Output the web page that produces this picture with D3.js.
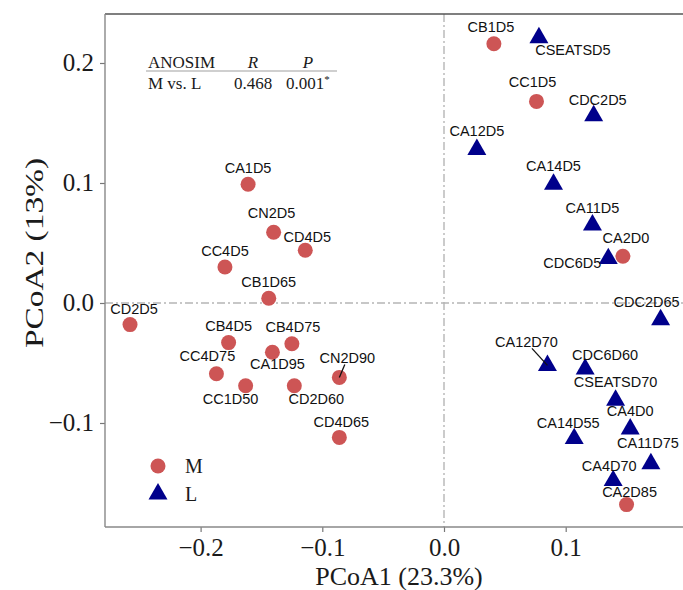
<!DOCTYPE html>
<html>
<head>
<meta charset="utf-8">
<script src="https://cdn.jsdelivr.net/npm/d3@7"></script>
<style>
  body { margin: 0; background: #fff; }
  svg { display: block; }
</style>
</head>
<body>
<div id="chart"></div>
<script>
// PCoA scores
const sampleNames = ["CA1D5","CN2D5","CD4D5","CC4D5","CB1D65","CD2D5","CB4D5","CB4D75","CA1D95",
  "CC4D75","CC1D50","CD2D60","CN2D90","CD4D65","CB1D5","CC1D5","CA2D0","CA2D85",
  "CSEATSD5","CDC2D5","CA12D5","CA14D5","CA11D5","CDC6D5","CDC2D65","CA12D70","CDC6D60",
  "CSEATSD70","CA4D0","CA14D55","CA11D75","CA4D70"];
const pcoa1 = [-0.161,-0.140,-0.114,-0.180,-0.144,-0.258,-0.177,-0.125,-0.141,
  -0.187,-0.163,-0.123,-0.086,-0.086,0.041,0.076,0.147,0.150,
  0.078,0.123,0.027,0.090,0.122,0.135,0.178,0.085,0.116,
  0.141,0.153,0.107,0.170,0.139];
const pcoa2 = [0.099,0.059,0.044,0.030,0.004,-0.018,-0.033,-0.034,-0.041,
  -0.059,-0.069,-0.069,-0.062,-0.112,0.216,0.168,0.039,-0.168,
  0.221,0.156,0.128,0.099,0.065,0.037,-0.014,-0.052,-0.055,
  -0.081,-0.105,-0.113,-0.134,-0.148];
const groups = ["M","M","M","M","M","M","M","M","M",
  "M","M","M","M","M","M","M","M","M",
  "L","L","L","L","L","L","L","L","L",
  "L","L","L","L","L"];

const groupNames = ["M", "L"];
const xTicks = [-0.2, -0.1, 0.0, 0.1];
const yTicks = [-0.1, 0.0, 0.1, 0.2];
const anosimHeader = ["ANOSIM", "R", "P"];
const anosimRow = ["M vs. L", "0.468", "0.001"];

// where each repelled label sits relative to its point (px)
const labelDx = [0,-2,2,0,0,4,0,1,5, -9,-15,22,8,2,-3,-4,3,3, 34,4,0,0,0,-36,-14,-21,20, 0,0,-6,-3,-4];
const labelDy = [-16,-19,-13,-16,-16,-16,-17,-17,12, -18,13,13,-19,-15,-17,-19,-18,-13,
  12,-16,-18,-18,-17,4,-18,-23,-14, -18,-18,-16,-21,-15];
const withSegment = ["CN2D90", "CA12D70"];

const width = 683, height = 590;
const pLeft = 105, pRight = 685, pTop = 14, pBottom = 527;

const colM = "#CD5555", colL = "#00008B";
const serif = "'Liberation Serif','Times New Roman',serif";
const sans = "'Liberation Sans',Arial,sans-serif";

const svg = d3.select("#chart").append("svg")
  .attr("width", width).attr("height", height);

const x = d3.scaleLinear().domain([-0.27856, 0.19803]).range([pLeft, pRight]);
const y = d3.scaleLinear().domain([-0.18667, 0.24083]).range([pBottom, pTop]);

// zero lines
svg.append("line")
  .attr("x1", pLeft).attr("x2", pRight).attr("y1", y(0)).attr("y2", y(0))
  .attr("stroke", "#b5b5b5").attr("stroke-width", 1.4)
  .attr("stroke-dasharray", "8,3,2,3");
svg.append("line")
  .attr("x1", x(0)).attr("x2", x(0)).attr("y1", pTop).attr("y2", pBottom)
  .attr("stroke", "#b5b5b5").attr("stroke-width", 1.4)
  .attr("stroke-dasharray", "8,3,2,3");

// axes
const xAxis = svg.append("g")
  .attr("transform", "translate(0," + pBottom + ")")
  .call(d3.axisBottom(x).tickValues(xTicks).tickFormat(d3.format(".1f")).tickSize(5).tickPadding(6));
const yAxis = svg.append("g")
  .attr("transform", "translate(" + pLeft + ",0)")
  .call(d3.axisLeft(y).tickValues(yTicks).tickFormat(d3.format(".1f")).tickSize(5).tickPadding(6));

[xAxis, yAxis].forEach(a => {
  a.select(".domain").remove();
  a.selectAll(".tick line").attr("stroke", "#777").attr("stroke-width", 1.2);
  a.selectAll(".tick text").attr("fill", "#1a1a1a")
    .style("font-family", serif).style("font-size", "25px");
});

// panel border (right side runs off the page)
svg.append("line").attr("x1", pLeft).attr("x2", pRight).attr("y1", pTop).attr("y2", pTop)
  .attr("stroke", "#555").attr("stroke-width", 1.4);
svg.append("line").attr("x1", pLeft).attr("x2", pRight).attr("y1", pBottom).attr("y2", pBottom)
  .attr("stroke", "#888").attr("stroke-width", 1.4);
svg.append("line").attr("x1", pLeft).attr("x2", pLeft).attr("y1", pTop).attr("y2", pBottom)
  .attr("stroke", "#888").attr("stroke-width", 1.4);

// axis titles
svg.append("text")
  .attr("x", 399).attr("y", 585)
  .attr("text-anchor", "middle")
  .attr("fill", "#1a1a1a")
  .style("font-family", serif).style("font-size", "26px")
  .text("PCoA1 (23.3%)");
svg.append("text")
  .attr("transform", "translate(43,253) rotate(-90)")
  .attr("text-anchor", "middle")
  .attr("textLength", 190).attr("lengthAdjust", "spacingAndGlyphs")
  .attr("fill", "#1a1a1a")
  .style("font-family", serif).style("font-size", "25px")
  .text("PCoA2 (13%)");

// points
const pts = sampleNames.map((n, i) => ({name: n, px: x(pcoa1[i]), py: y(pcoa2[i]), g: groups[i], i: i}));
const tri = d3.symbol().type(d3.symbolTriangle).size(156);

svg.selectAll("circle.pt")
  .data(pts.filter(d => d.g === "M"))
  .enter().append("circle")
  .attr("class", "pt")
  .attr("cx", d => d.px).attr("cy", d => d.py)
  .attr("r", 7.5)
  .attr("fill", colM);

svg.selectAll("path.pt")
  .data(pts.filter(d => d.g === "L"))
  .enter().append("path")
  .attr("class", "pt")
  .attr("d", tri)
  .attr("transform", d => "translate(" + d.px + "," + d.py + ")")
  .attr("fill", colL);

// leader segments
pts.filter(d => withSegment.includes(d.name)).forEach(d => {
  const lx = d.px + labelDx[d.i], ly = d.py + labelDy[d.i];
  const ey = ly + 6;
  const t = (d.py - ey) / (d.py - ly);
  svg.append("line")
    .attr("x1", d.px).attr("y1", d.py)
    .attr("x2", d.px + t * (lx - d.px)).attr("y2", ey)
    .attr("stroke", "#111").attr("stroke-width", 1.3);
});

// labels
svg.selectAll("text.lab")
  .data(pts)
  .enter().append("text")
  .attr("class", "lab")
  .attr("x", d => d.px + labelDx[d.i])
  .attr("y", d => d.py + labelDy[d.i])
  .attr("text-anchor", "middle")
  .attr("dominant-baseline", "central")
  .attr("fill", "#111")
  .style("font-family", sans).style("font-size", "14.5px")
  .text(d => d.name);

// ANOSIM table
const tbl = svg.append("g").style("font-family", serif).style("font-size", "17px").attr("fill", "#1a1a1a");
tbl.append("text").attr("x", 148).attr("y", 67.5).text(anosimHeader[0]);
tbl.append("text").attr("x", 253).attr("y", 67.5).attr("text-anchor", "middle")
  .style("font-style", "italic").text(anosimHeader[1]);
tbl.append("text").attr("x", 308).attr("y", 67.5).attr("text-anchor", "middle")
  .style("font-style", "italic").text(anosimHeader[2]);
tbl.append("line").attr("x1", 146).attr("x2", 337).attr("y1", 71).attr("y2", 71)
  .attr("stroke", "#cfcfcf").attr("stroke-width", 2);
tbl.append("text").attr("x", 148).attr("y", 88.5).text(anosimRow[0]);
tbl.append("text").attr("x", 234).attr("y", 88.5).text(anosimRow[1]);
const pv = tbl.append("text").attr("x", 286).attr("y", 88.5).text(anosimRow[2]);
pv.append("tspan").attr("dy", -6).style("font-size", "11px").text("*");

// legend
const legend = svg.append("g");
groupNames.forEach((g, k) => {
  const ly = 466 + k * 28;
  if (g === "M") {
    legend.append("circle").attr("cx", 158).attr("cy", ly).attr("r", 7.5).attr("fill", colM);
  } else {
    legend.append("path").attr("d", tri).attr("transform", "translate(158," + ly + ")").attr("fill", colL);
  }
  legend.append("text")
    .attr("x", 185).attr("y", ly + 7)
    .attr("fill", "#1a1a1a")
    .style("font-family", serif).style("font-size", "20px")
    .text(g);
});
</script>
</body>
</html>
